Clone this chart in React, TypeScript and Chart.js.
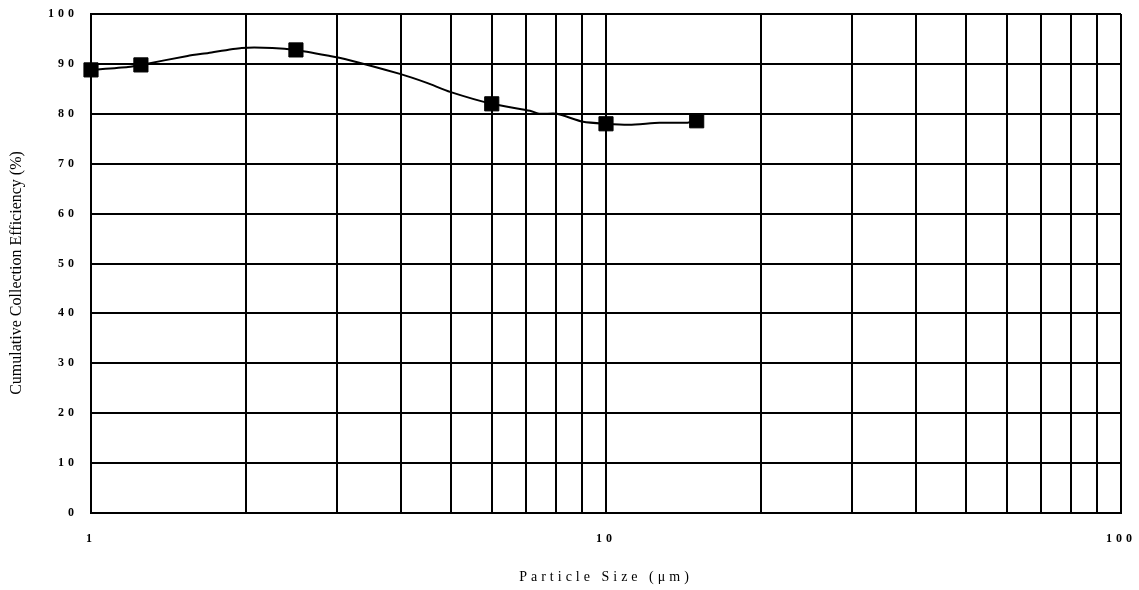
import React, { useEffect, useRef } from 'react';
import { Chart, registerables } from 'chart.js';

Chart.register(...registerables);

// Smooth curve (particle size in µm, efficiency in %)
const curveSizes = [1, 1.18, 1.25, 1.54, 1.69, 1.96, 2.25, 2.5, 2.91, 3.11, 3.98, 4.49, 4.98, 6, 7.12, 7.44, 8.03, 9.03, 10, 11.1, 12.7, 14.4, 15];
const curveEff = [88.8, 89.4, 89.8, 91.6, 92.2, 93.2, 93.2, 92.8, 91.6, 91.0, 88.0, 86.2, 84.4, 82.0, 80.6, 80.0, 80.0, 78.4, 78.0, 77.8, 78.2, 78.2, 78.6];

// Measured points (square markers)
const measuredSizes = [1, 1.25, 2.5, 6, 10, 15];
const measuredEff = [88.8, 89.8, 92.8, 82.0, 78.0, 78.6];

// Axis ticks
const xGridValues = [1, 2, 3, 4, 5, 6, 7, 8, 9, 10, 20, 30, 40, 50, 60, 70, 80, 90, 100];
const xLabelValues = [1, 10, 100];
const yMin = 0;
const yMax = 100;
const yStep = 10;

const xTitle = 'Particle Size (μm)';
const yTitle = 'Cumulative Collection Efficiency (%)';

const spacingPlugin = {
  id: 'spacingPlugin',
  beforeLayout(chart: any) {
    chart.ctx.letterSpacing = '4px';
  },
  beforeDraw(chart: any) {
    chart.ctx.letterSpacing = '4px';
  },
  afterDraw(chart: any) {
    const ctx = chart.ctx;
    ctx.save();
    ctx.letterSpacing = '0px';
    ctx.font = '16px "Liberation Serif"';
    ctx.fillStyle = '#000';
    ctx.translate(17, 273);
    ctx.rotate(-Math.PI / 2);
    ctx.textAlign = 'center';
    ctx.textBaseline = 'middle';
    ctx.fillText(yTitle, 0, 0);
    ctx.restore();
  },
};

export default function App() {
  const canvasRef = useRef<HTMLCanvasElement | null>(null);

  useEffect(() => {
    const canvas = canvasRef.current;
    if (!canvas) return;
    const tickFont = { family: '"Liberation Serif"', size: 12, weight: 'bold' as const };
    const chart = new Chart(canvas, {
      type: 'line',
      data: {
        datasets: [
          {
            label: 'measured',
            data: measuredSizes.map((x, i) => ({ x, y: measuredEff[i] })),
            showLine: false,
            pointStyle: 'rect',
            pointRadius: 10,
            pointHoverRadius: 10,
            backgroundColor: '#000',
            borderColor: '#000',
            borderWidth: 1,
            clip: false as any,
          },
          {
            label: 'curve',
            data: curveSizes.map((x, i) => ({ x, y: curveEff[i] })),
            borderColor: '#000',
            borderWidth: 2,
            pointRadius: 0,
            tension: 0.2,
            fill: false,
            clip: false as any,
          },
        ],
      },
      options: {
        animation: false,
        responsive: false,
        devicePixelRatio: 1,
        layout: { padding: { left: 0, right: 18, top: 14, bottom: 0 } },
        plugins: {
          legend: { display: false },
          tooltip: { enabled: false },
        },
        scales: {
          x: {
            type: 'logarithmic',
            min: 1,
            max: 100,
            afterBuildTicks: (scale: any) => {
              scale.ticks = xGridValues.map((v) => ({ value: v }));
            },
            afterFit: (scale: any) => {
              scale.height = 77;
              scale.paddingLeft = 0;
              scale.paddingRight = 0;
            },
            grid: { color: '#000', lineWidth: 2, drawTicks: false },
            border: { display: true, color: '#000', width: 2 },
            ticks: {
              autoSkip: false,
              maxRotation: 0,
              minRotation: 0,
              padding: 19,
              color: '#000',
              font: tickFont,
              callback: (value: any) => (xLabelValues.includes(Number(value)) ? String(value) : ''),
            },
            title: {
              display: true,
              text: xTitle,
              color: '#000',
              font: { family: '"Liberation Serif"', size: 14 },
              padding: { top: 0, bottom: 4 },
            },
          },
          y: {
            type: 'linear',
            min: yMin,
            max: yMax,
            afterFit: (scale: any) => {
              scale.width = 91;
              scale.paddingTop = 0;
              scale.paddingBottom = 0;
            },
            grid: { color: '#000', lineWidth: 2, drawTicks: false },
            border: { display: true, color: '#000', width: 2 },
            ticks: {
              stepSize: yStep,
              padding: 13,
              color: '#000',
              font: tickFont,
            },
          },
        },
      },
      plugins: [spacingPlugin],
    });
    return () => chart.destroy();
  }, []);

  return (
    <div style={{ position: 'fixed', left: 0, top: 0, width: 1139, height: 590, background: '#fff' }}>
      <canvas ref={canvasRef} width={1139} height={590} />
    </div>
  );
}
